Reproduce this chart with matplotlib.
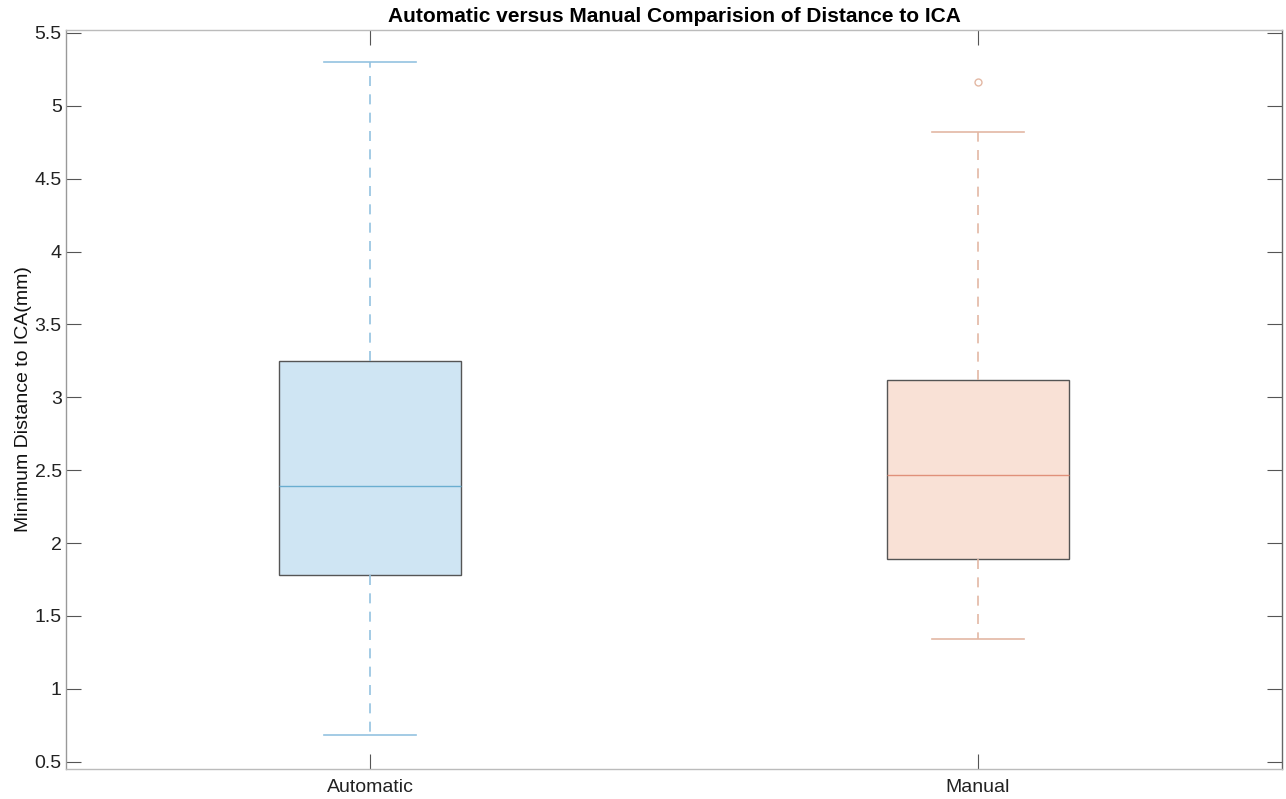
import matplotlib.pyplot as plt

plt.rcParams['font.family'] = ['Liberation Sans', 'DejaVu Sans']

# summary statistics for each method (mm)
labels = ['Automatic', 'Manual']
q1 = [1.78, 1.89]
medians = [2.39, 2.47]
q3 = [3.25, 3.12]
whisker_lo = [0.68, 1.34]
whisker_hi = [5.30, 4.82]
outliers = [[], [5.16]]

face_colors = ['#cfe5f3', '#f9e1d6']
line_colors = ['#93c2e0', '#e3b8a4']
median_colors = ['#6aaed0', '#e0907a']

stats = []
for i, name in enumerate(labels):
    stats.append({
        'label': name,
        'q1': q1[i],
        'med': medians[i],
        'q3': q3[i],
        'whislo': whisker_lo[i],
        'whishi': whisker_hi[i],
        'fliers': outliers[i],
    })

fig = plt.figure(figsize=(12.86, 7.99), dpi=100)
ax = fig.add_axes([66 / 1286, 30 / 799, 1216 / 1286, 739 / 799])

bp = ax.bxp(stats, positions=[1, 2], widths=0.3, patch_artist=True,
            showfliers=True)

for i in range(len(labels)):
    box = bp['boxes'][i]
    box.set_facecolor(face_colors[i])
    box.set_edgecolor('#555555')
    box.set_linewidth(1.0)
    bp['medians'][i].set_color(median_colors[i])
    bp['medians'][i].set_linewidth(1.0)
    for w in bp['whiskers'][2 * i:2 * i + 2]:
        w.set_color(line_colors[i])
        w.set_linestyle((0, (6, 5)))
        w.set_linewidth(1.2)
    for c in bp['caps'][2 * i:2 * i + 2]:
        c.set_color(line_colors[i])
        c.set_linewidth(1.2)
        c.set_xdata([i + 1 - 0.075, i + 1 + 0.075])
    fl = bp['fliers'][i]
    fl.set_marker('o')
    fl.set_markerfacecolor('none')
    fl.set_markeredgecolor(line_colors[i])
    fl.set_markersize(5)

ax.set_xlim(0.5, 2.5)
ax.set_ylim(0.45, 5.52)
ax.set_yticks([0.5, 1, 1.5, 2, 2.5, 3, 3.5, 4, 4.5, 5, 5.5])
ax.set_yticklabels(['0.5', '1', '1.5', '2', '2.5', '3', '3.5', '4', '4.5', '5', '5.5'])
ax.set_xticks([1, 2])
ax.set_xticklabels(labels)

ax.tick_params(direction='in', length=11, width=0.8, colors='#555555',
               labelcolor='#222222', labelsize=14, top=True, right=True)
ax.tick_params(axis='x', pad=7)
ax.tick_params(axis='y', pad=3)
for s in ax.spines.values():
    s.set_color('#bbbbbb')
    s.set_linewidth(1.0)
ax.spines['left'].set_color('#999999')
ax.spines['right'].set_color('#666666')

ax.set_ylabel('Minimum Distance to ICA(mm)', fontsize=14, color='#111111',
              labelpad=2)
ax.set_title('Automatic versus Manual Comparision of Distance to ICA',
             fontsize=15, fontweight='bold', pad=6)

fig.savefig('out.png', dpi=100)
